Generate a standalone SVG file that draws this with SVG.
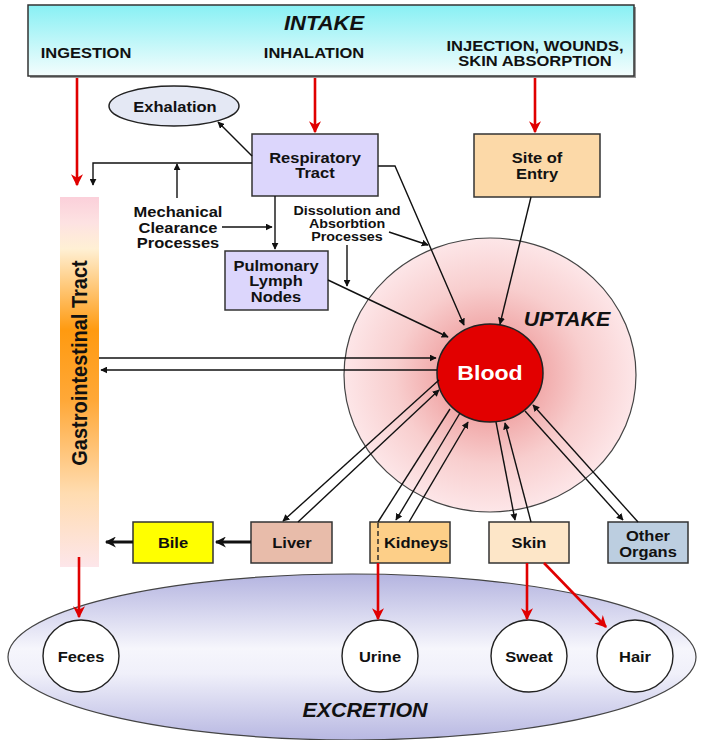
<svg xmlns="http://www.w3.org/2000/svg" width="705" height="740" viewBox="0 0 705 740">
<defs>
<style>
.t{font-family:"Liberation Sans",Arial,sans-serif;font-weight:bold;fill:#111;text-anchor:middle}
.s15{font-size:15px}
.s13{font-size:13px}
.big{font-size:19.5px;font-style:italic}
.box{stroke:#333;stroke-width:1.5}
.ln{stroke:#111;stroke-width:1.4;fill:none}
.red{stroke:#e00000;stroke-width:2.6;fill:none}
.thick{stroke:#111;stroke-width:3;fill:none}
.circ{fill:#fff;stroke:#222;stroke-width:1.4}
</style>
<marker id="ah" viewBox="0 0 10 10" refX="9" refY="5" markerWidth="7" markerHeight="7" markerUnits="userSpaceOnUse" orient="auto"><path d="M0,0 L10,5 L0,10 z" fill="#111"/></marker>
<marker id="ahr" viewBox="0 0 10 10" refX="9" refY="5" markerWidth="13" markerHeight="12" markerUnits="userSpaceOnUse" orient="auto"><path d="M0,0 L10,5 L0,10 L3,5 z" fill="#e00000"/></marker>
<marker id="ahk" viewBox="0 0 10 10" refX="9" refY="5" markerWidth="14" markerHeight="11" markerUnits="userSpaceOnUse" orient="auto"><path d="M0,0 L10,5 L0,10 L3,5 z" fill="#111"/></marker>
<linearGradient id="gIntake" x1="0" y1="0" x2="0" y2="1"><stop offset="0" stop-color="#88f0f4"/><stop offset="1" stop-color="#f4fdfd"/></linearGradient>
<linearGradient id="gGI" x1="0" y1="0" x2="0" y2="1"><stop offset="0" stop-color="#fbd0da"/><stop offset="0.07" stop-color="#fde2e2"/><stop offset="0.14" stop-color="#fff0d4"/><stop offset="0.36" stop-color="#ff9a10"/><stop offset="0.55" stop-color="#ffa838"/><stop offset="0.8" stop-color="#ffdcb0"/><stop offset="1" stop-color="#fde6ea"/></linearGradient>
<radialGradient id="gUp" cx="0.5" cy="0.5" r="0.5"><stop offset="0.3" stop-color="#f0a4a4"/><stop offset="0.65" stop-color="#f8cece"/><stop offset="1" stop-color="#fde6e8"/></radialGradient>
<linearGradient id="gEx" x1="0" y1="0" x2="0" y2="1"><stop offset="0" stop-color="#b4b4e0"/><stop offset="0.45" stop-color="#f6f6fc"/><stop offset="0.6" stop-color="#f0f0fa"/><stop offset="1" stop-color="#b8b8e2"/></linearGradient>
</defs>
<rect width="705" height="740" fill="#fff"/>

<g id="intake">
<rect x="30" y="7" width="606" height="71" fill="#999"/>
<rect x="28" y="5" width="606" height="71" fill="url(#gIntake)" class="box"/>
<text class="t" font-size="20" font-style="italic" transform="translate(324,30) scale(1.1,1)">INTAKE</text>
<text class="t s15" transform="translate(86,57.5) scale(1.1,1)">INGESTION</text>
<text class="t s15" transform="translate(314,57.5) scale(1.1,1)">INHALATION</text>
<text class="t" font-size="14" transform="translate(535,50.5) scale(1.18,1)">INJECTION, WOUNDS,</text>
<text class="t" font-size="14" transform="translate(535,65.5) scale(1.18,1)">SKIN ABSORPTION</text>
</g>

<g id="uptake">
<ellipse cx="490" cy="375" rx="146" ry="137" fill="url(#gUp)" stroke="#444" stroke-width="1.2"/>
<text class="t big" transform="translate(567,326) scale(1.1,1)">UPTAKE</text>
</g>

<g id="excretion">
<ellipse cx="352" cy="657" rx="344" ry="83" fill="url(#gEx)" stroke="#444" stroke-width="1.2"/>
<text class="t big" transform="translate(365,717) scale(1.1,1)">EXCRETION</text>
</g>

<g id="gi">
<rect x="60" y="197" width="39" height="370" fill="url(#gGI)"/>
<text class="t" font-size="20" transform="translate(87,363) rotate(-90) scale(1,1.1)">Gastrointestinal Tract</text>
</g>

<g id="exhalation">
<ellipse cx="174" cy="106" rx="65" ry="20" fill="#e4e8f4" stroke="#222" stroke-width="1.5"/>
<text class="t s15" transform="translate(175,111.5) scale(1.1,1)">Exhalation</text>
</g>

<g id="respiratory">
<rect x="252" y="134" width="126" height="62" fill="#dcd6fc" class="box"/>
<text class="t s15" transform="translate(315,162.5) scale(1.1,1)">Respiratory</text>
<text class="t s15" transform="translate(315,177.5) scale(1.1,1)">Tract</text>
</g>

<g id="mechanical">
<text class="t s15" transform="translate(178,216.5) scale(1.1,1)">Mechanical</text>
<text class="t s15" transform="translate(178,232.5) scale(1.1,1)">Clearance</text>
<text class="t s15" transform="translate(178,247.5) scale(1.1,1)">Processes</text>
</g>

<g id="dissolution">
<text class="t s13" transform="translate(347,214.7) scale(1.1,1)">Dissolution and</text>
<text class="t s13" transform="translate(347,227.7) scale(1.1,1)">Absorbtion</text>
<text class="t s13" transform="translate(347,240.7) scale(1.1,1)">Processes</text>
</g>

<g id="pulmonary">
<rect x="225" y="251" width="103" height="59" fill="#dcd6fc" class="box"/>
<text class="t s15" transform="translate(276,270.5) scale(1.1,1)">Pulmonary</text>
<text class="t s15" transform="translate(276,285.5) scale(1.1,1)">Lymph</text>
<text class="t s15" transform="translate(276,301.5) scale(1.1,1)">Nodes</text>
</g>

<g id="site">
<rect x="474" y="134" width="126" height="63" fill="#fcd9a8" class="box"/>
<text class="t s15" transform="translate(537,162.5) scale(1.1,1)">Site of</text>
<text class="t s15" transform="translate(537,178.5) scale(1.1,1)">Entry</text>
</g>

<g id="blood">
<ellipse cx="490" cy="373" rx="53" ry="49" fill="#e20000" stroke="#222" stroke-width="1.5"/>
<text class="t" font-size="21" style="fill:#fff" transform="translate(490,380) scale(1.1,1)">Blood</text>
</g>

<g id="bile">
<rect x="133" y="522" width="80" height="41" fill="#ffff00" class="box"/>
<text class="t s15" transform="translate(173,547.5) scale(1.1,1)">Bile</text>
</g>

<g id="liver">
<rect x="251" y="522" width="81" height="41" fill="#e8bcaa" class="box"/>
<text class="t s15" transform="translate(292,547.5) scale(1.1,1)">Liver</text>
</g>

<g id="kidneys">
<rect x="370" y="522" width="80" height="41" fill="#fdcf88" class="box"/>
<line x1="378" y1="523" x2="378" y2="562" stroke="#222" stroke-width="1.4" stroke-dasharray="5,3"/>
<text class="t s15" transform="translate(416,548) scale(1.1,1)">Kidneys</text>
</g>

<g id="skin">
<rect x="489" y="522" width="80" height="41" fill="#fde6c8" class="box"/>
<text class="t s15" transform="translate(529,547.5) scale(1.1,1)">Skin</text>
</g>

<g id="other">
<rect x="608" y="522" width="80" height="41" fill="#bccee0" class="box"/>
<text class="t s15" transform="translate(648,540.5) scale(1.1,1)">Other</text>
<text class="t s15" transform="translate(648,556.5) scale(1.1,1)">Organs</text>
</g>

<g id="feces"><ellipse cx="81" cy="656" rx="38" ry="36" class="circ"/><text class="t s15" transform="translate(81,661.5) scale(1.1,1)">Feces</text></g>
<g id="urine"><ellipse cx="380" cy="656" rx="38" ry="36" class="circ"/><text class="t s15" transform="translate(380,661.5) scale(1.1,1)">Urine</text></g>
<g id="sweat"><ellipse cx="529" cy="656" rx="38" ry="36" class="circ"/><text class="t s15" transform="translate(529,661.5) scale(1.1,1)">Sweat</text></g>
<g id="hair"><ellipse cx="635" cy="656" rx="38" ry="36" class="circ"/><text class="t s15" transform="translate(635,661.5) scale(1.1,1)">Hair</text></g>

<g id="connectors">
<line class="red" x1="77" y1="78" x2="77" y2="185" marker-end="url(#ahr)"/>
<line class="red" x1="315" y1="78" x2="315" y2="132" marker-end="url(#ahr)"/>
<line class="red" x1="535" y1="78" x2="535" y2="132" marker-end="url(#ahr)"/>
<line class="ln" x1="252" y1="156" x2="218" y2="122" marker-end="url(#ah)"/>
<polyline class="ln" points="252,163 93,163 93,185" marker-end="url(#ah)"/>
<line class="ln" x1="177" y1="198" x2="177" y2="164" marker-end="url(#ah)"/>
<line class="ln" x1="222" y1="227" x2="272" y2="227" marker-end="url(#ah)"/>
<line class="ln" x1="275" y1="196" x2="275" y2="249" marker-end="url(#ah)"/>
<line class="ln" x1="389" y1="232" x2="428" y2="245" marker-end="url(#ah)"/>
<line class="ln" x1="347" y1="245" x2="347" y2="286" marker-end="url(#ah)"/>
<polyline class="ln" points="378,166 395,166 464,325" marker-end="url(#ah)"/>
<line class="ln" x1="328" y1="280" x2="448" y2="337" marker-end="url(#ah)"/>
<line class="ln" x1="531" y1="197" x2="500" y2="324" marker-end="url(#ah)"/>
<line class="ln" x1="99" y1="358" x2="436" y2="358" marker-end="url(#ah)"/>
<line class="ln" x1="437" y1="370" x2="101" y2="370" marker-end="url(#ah)"/>
<line class="ln" x1="439" y1="380" x2="283" y2="521" marker-end="url(#ah)"/>
<line class="ln" x1="298" y1="522" x2="439" y2="390" marker-end="url(#ah)"/>
<line class="ln" x1="450" y1="409" x2="378" y2="522"/>
<line class="ln" x1="460" y1="413" x2="396" y2="520" marker-end="url(#ah)"/>
<line class="ln" x1="409" y1="522" x2="468" y2="422" marker-end="url(#ah)"/>
<line class="ln" x1="496" y1="422" x2="515" y2="520" marker-end="url(#ah)"/>
<line class="ln" x1="531" y1="522" x2="505" y2="423" marker-end="url(#ah)"/>
<line class="ln" x1="525" y1="411" x2="623" y2="520" marker-end="url(#ah)"/>
<line class="ln" x1="638" y1="522" x2="533" y2="405" marker-end="url(#ah)"/>
<line class="thick" x1="251" y1="542" x2="216" y2="542" marker-end="url(#ahk)"/>
<line class="thick" x1="133" y1="542" x2="106" y2="542" marker-end="url(#ahk)"/>
<line class="red" x1="79" y1="557" x2="79" y2="617" marker-end="url(#ahr)"/>
<line class="red" x1="378" y1="563" x2="378" y2="619" marker-end="url(#ahr)"/>
<line class="red" x1="527" y1="563" x2="527" y2="619" marker-end="url(#ahr)"/>
<line class="red" x1="544" y1="563" x2="606" y2="627" marker-end="url(#ahr)"/>
</g>
</svg>
